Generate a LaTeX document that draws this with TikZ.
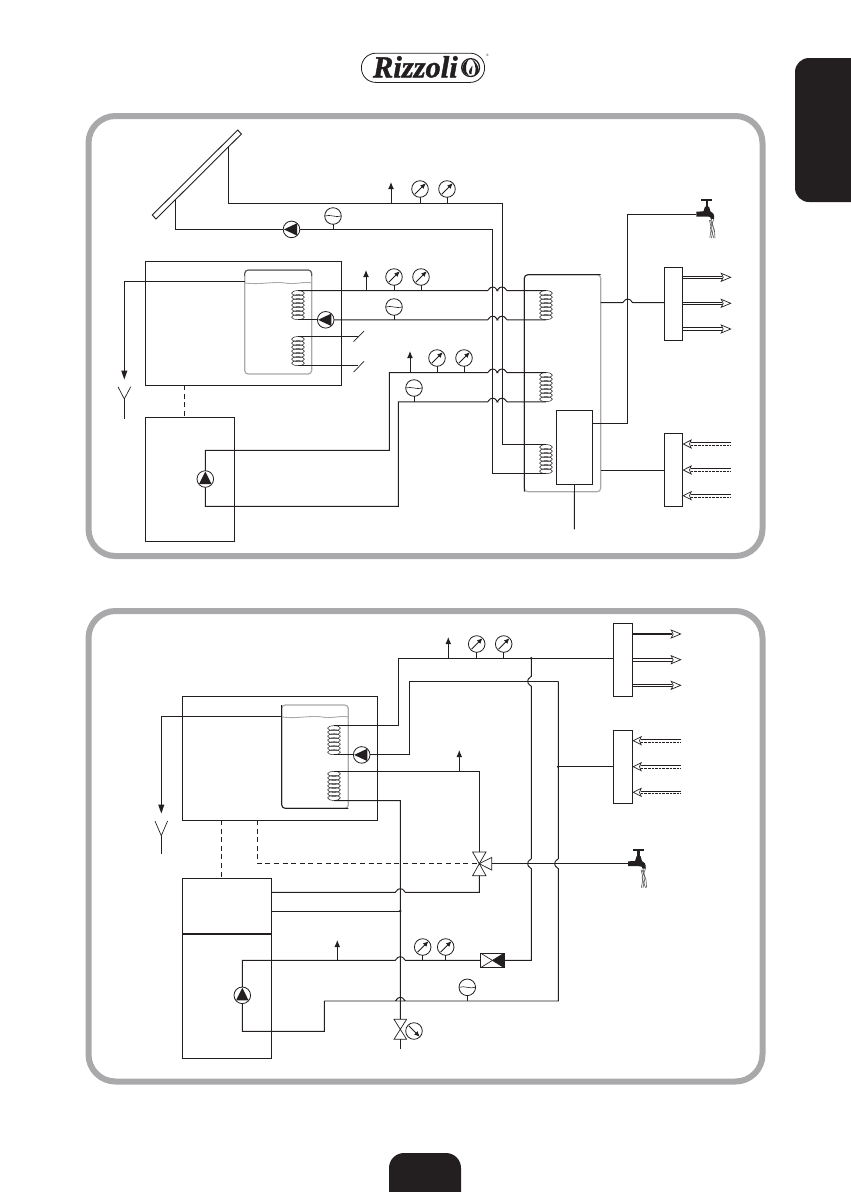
\documentclass[tikz,border=0pt]{standalone}
\usepackage{fontspec}
\setmainfont{Liberation Serif}
\newfontfamily\logofont[UprightFont={*/BI},RawFeature={embolden=1.3}]{Liberation Serif}
\usetikzlibrary{arrows.meta}
\definecolor{ink}{HTML}{231F20}
\definecolor{frame}{HTML}{A9A9AB}
\tikzset{
  pipe/.style={draw=ink,line width=0.95pt,line join=miter},
  box/.style={draw=ink,line width=0.95pt,rectangle,inner sep=0pt,outer sep=0pt,anchor=north west},
  panel/.style={draw=frame,line width=6pt,rounded corners=27pt},
  tank/.style={draw=frame,line width=1.2pt,rounded corners=3.5pt},
  dial/.style={draw=ink,line width=0.8pt,circle,minimum size=16.6pt,inner sep=0pt,outer sep=0pt,fill=white},
  needle/.style={ink,line width=0.9pt,-{Latex[length=5.5pt,width=5pt]}},
  vent/.style={ink,line width=0.95pt,-{Latex[length=7pt,width=5.8pt]}},
  dashpipe/.style={draw=ink,line width=0.9pt,dash pattern=on 5pt off 3.6pt},
  openhead/.style={draw=ink,line width=0.7pt,fill=white},
  coilring/.style={draw=ink,line width=0.5pt},
  drop/.style={draw=ink!75,line width=0.6pt},
  wave/.style={draw=frame,line width=0.9pt},
}
% bump of a horizontal pipe over a vertical one
\newcommand{\hb}[2]{-- (#1-5,#2) .. controls (#1-3.6,#2) and (#1-3.8,#2-3.6) .. (#1,#2-3.6) .. controls (#1+3.8,#2-3.6) and (#1+3.6,#2) .. (#1+5,#2)}
% bump of a vertical pipe to the left
\newcommand{\vb}[2]{-- (#1,#2-5) .. controls (#1,#2-3.6) and (#1-3.6,#2-3.8) .. (#1-3.6,#2) .. controls (#1-3.6,#2+3.8) and (#1,#2+3.6) .. (#1,#2+5)}
\newcommand{\gaugeup}[3]{\node[dial] (#1) at (#2,#3) {};\draw[needle] (#2-5.2,#3+5.2) -- (#2+5.8,#3-5.8);}
\newcommand{\gaugedown}[3]{\node[dial] (#1) at (#2,#3) {};\draw[needle] (#2-5.2,#3-5.2) -- (#2+5.8,#3+5.8);}
\newcommand{\flowdial}[3]{\node[dial] (#1) at (#2,#3) {};\draw[ink,line width=0.6pt] (#2-8,#3) .. controls (#2-3,#3-2) and (#2+3,#3+2) .. (#2+8,#3);}
\newcommand{\pumpleft}[3]{\node[dial] (#1) at (#2,#3) {};\fill[ink] (#2-7.6,#3) -- (#2+5.6,#3-6.2) -- (#2+5.6,#3+6.2) -- cycle;}
\newcommand{\pumpup}[3]{\node[dial] (#1) at (#2,#3) {};\fill[ink] (#2,#3-7.6) -- (#2-6.2,#3+5) -- (#2+6.2,#3+5) -- cycle;}
\newcommand{\coilfig}[3]{%
  \foreach \k in {0,...,6}{\draw[coilring] (#2,#3+2.5+4*\k) ellipse [x radius=6.4pt,y radius=2.5pt];}
  \coordinate (#1-t) at (#2,#3);
  \coordinate (#1-b) at (#2,#3+29.2);}
\newcommand{\tapfig}[3]{%
  \coordinate (#1) at (#2,#3);
  \fill[ink] (#2,#3-2.4) -- (#2+7,#3-2.6) -- (#2+8.6,#3-7.5) -- (#2+12.6,#3-7.5) -- (#2+14,#3-2.6) .. controls (#2+16.6,#3-2) and (#2+17.8,#3) .. (#2+17.8,#3+4.8) -- (#2+14.4,#3+4.8) .. controls (#2+14.4,#3+3) and (#2+13.6,#3+2.5) .. (#2+11,#3+2.5) -- (#2,#3+2.5) -- cycle;
  \fill[ink] (#2+9.3,#3-14) rectangle (#2+12,#3-6);
  \fill[ink] (#2+4.8,#3-14.6) rectangle (#2+16,#3-12.6);
  \draw[drop] (#2+13,#3+6) -- (#2+15,#3+14) -- (#2+13.4,#3+24);
  \draw[drop] (#2+15,#3+5) -- (#2+17,#3+14) -- (#2+15,#3+24);
  \draw[drop] (#2+17.5,#3+5) -- (#2+14,#3+14) -- (#2+17.5,#3+24);
  \draw[drop] (#2+14,#3+6) -- (#2+18,#3+16) -- (#2+18.6,#3+24);}
\newcommand{\outflow}[3]{% box edge x, tip x, y
  \draw[pipe,line width=0.8pt] (#1,#3-1.2) -- (#2-9,#3-1.2);
  \draw[pipe,line width=0.8pt] (#1,#3+1.2) -- (#2-9,#3+1.2);
  \draw[openhead] (#2-9.5,#3-4) -- (#2,#3) -- (#2-9.5,#3+4) -- (#2-7.5,#3) -- cycle;}
\newcommand{\inflow}[3]{% box edge x, tail x, y
  \draw[pipe,line width=0.8pt] (#1+8,#3-1.2) -- (#2,#3-1.2);
  \draw[pipe,line width=0.8pt,dash pattern=on 2.6pt off 1pt] (#1+8,#3+1.2) -- (#2,#3+1.2);
  \draw[openhead] (#1+8.5,#3-4) -- (#1+0.6,#3) -- (#1+8.5,#3+4) -- (#1+6.8,#3) -- cycle;}
\begin{document}
\begin{tikzpicture}[x=1pt,y=-1pt]
\useasboundingbox (0,0) rectangle (851,1192);
% page furniture
\fill[ink] (851,58) -- (809,58) arc[start angle=90,end angle=180,radius=14pt] -- (795,188) arc[start angle=180,end angle=270,radius=14pt] -- (851,202) -- cycle;
\fill[ink] (389,1192) -- (389,1168) arc[start angle=180,end angle=90,radius=15pt] -- (446,1153) arc[start angle=90,end angle=0,radius=15pt] -- (461,1192) -- cycle;
% logo
\draw[ink,line width=0.8pt,rounded corners=14.4pt] (361.4,53.2) rectangle (484.6,82.4);
\node[inner sep=0pt,anchor=base west,font=\logofont\fontsize{30.5}{30.5}\selectfont,text=ink] (logo) at (372.8,77.3) {Rizzoli};
\fill[ink] (470.6,67.6) circle[radius=9.6pt];
\fill[white] (470.6,67.6) circle[radius=8.2pt];
\fill[ink] (462.4,70) .. controls (461.4,64) and (466,61) .. (469,59) .. controls (466,63) and (465.6,67) .. (466.4,72) -- (469,75.6) .. controls (466,75) and (463.4,73) .. (462.4,70) -- cycle;
\fill[ink] (472,59.4) .. controls (475,61) and (479,66) .. (478.6,71) .. controls (477.6,73.6) and (476,75) .. (474,75.8) .. controls (476,72) and (477,66) .. (472,59.4) -- cycle;
\fill[ink] (469.6,74) .. controls (467.6,70.6) and (471,68.6) .. (472.4,65.6) .. controls (473,68) and (471.4,70) .. (471.6,74) -- cycle;
\node[inner sep=0pt,font=\fontsize{3.5}{3.5}\selectfont,text=ink] (regmark) at (487.5,55) {®};
% frames
\draw[panel] (88.5,116) rectangle (762.5,556);
\draw[panel] (88.5,611) rectangle (762.5,1081.5);

%% ------------ upper circuit
\draw[ink,line width=0.9pt] (152.3,215) -- (237.7,130) -- (241.4,134) -- (156,219) -- cycle;
\coordinate (solarA) at (228,147.4);
\coordinate (solarB) at (175.7,199.4);
\node[box,minimum width=195.3pt,minimum height=123.3pt] (boiler) at (145.7,261.7) {};
\node[box,minimum width=88.6pt,minimum height=123.7pt] (stove) at (145.7,417.3) {};
\draw[tank] (244.7,270) rectangle (311.7,374);
\draw[ink!75,line width=1pt,rounded corners=3.5pt] (244.7,276) -- (244.7,270) -- (311.7,270) -- (311.7,276);
\draw[wave] (244.7,283) .. controls (262,285) and (275,281) .. (285,283) .. controls (295,285) and (305,281) .. (311.7,283);
\coilfig{cA}{298}{290.6}
\coilfig{cB}{298}{336.6}
\draw[tank] (524.3,274.7) rectangle (600.7,491.7);
\draw[pipe,rounded corners=3.5pt] (524.3,491.7) -- (524.3,274.7) -- (600.7,274.7);
\coilfig{cC}{546}{290.6}
\coilfig{cD}{546}{372.6}
\coilfig{cE}{546}{444.6}
\node[box,minimum width=36.4pt,minimum height=74.4pt,fill=white] (exch) at (556.3,410.3) {};
\node[box,minimum width=18.4pt,minimum height=73.4pt] (hot) at (664.3,267.3) {};
\node[box,minimum width=18.4pt,minimum height=73pt] (cold) at (664.3,433.3) {};

% solar loop
\pumpleft{pS}{291.5}{229.4}
\flowdial{fS}{333}{216}
\gaugeup{gS1}{420}{189}
\gaugeup{gS2}{447}{189}
\draw[pipe] (solarA) -- (228,203) -- (502,203) -- (502,444.6) -- (cE-t);
\draw[pipe] (solarB) -- (175.7,229.4) -- (pS.west);
\draw[pipe] (pS.east) -- (492.7,229.4) -- (492.7,473.8) -- (cE-b);
\coordinate (vS) at (391,182);
\draw[vent] (391,203) -- (vS);
\draw[pipe] (gS1.south) -- (420,203);
\draw[pipe] (gS2.south) -- (447,203);
\draw[pipe] (fS.south) -- (333,229.4);

% first loop
\pumpleft{pA}{325.7}{319.8}
\flowdial{fA}{394}{307}
\gaugeup{gA1}{394}{277}
\gaugeup{gA2}{421}{277}
\draw[pipe] (cA-t) \hb{492.7}{290.6} \hb{502}{290.6} -- (cC-t);
\draw[pipe] (cA-b) -- (pA.west);
\draw[pipe] (pA.east) \hb{492.7}{319.8} \hb{502}{319.8} -- (cC-b);
\coordinate (vA) at (366,270);
\draw[vent] (366,290.6) -- (vA);
\draw[pipe] (gA1.south) -- (394,290.6);
\draw[pipe] (gA2.south) -- (421,290.6);
\draw[pipe] (fA.south) -- (394,319.8);
% cut ends
\coordinate (cutA) at (358,336.6);
\coordinate (cutB) at (358,365.8);
\draw[pipe] (cB-t) -- (cutA);
\draw[pipe] (cB-b) -- (cutB);
\draw[ink,line width=0.7pt] (353.6,341.6) -- (364,331);
\draw[ink,line width=0.7pt] (353.6,372) -- (364,361.4);

% stove loop
\pumpup{pB}{205.3}{479}
\flowdial{fB}{414}{388}
\gaugeup{gB1}{437}{358}
\gaugeup{gB2}{464}{358}
\draw[pipe] (pB.north) -- (205.3,450.3) -- (389.3,450.3) -- (389.3,372.6) \hb{492.7}{372.6} \hb{502}{372.6} -- (cD-t);
\draw[pipe] (pB.south) -- (205.3,506.3) -- (398.3,506.3) -- (398.3,401.8) \hb{492.7}{401.8} \hb{502}{401.8} -- (cD-b);
\coordinate (vB) at (410,351);
\draw[vent] (410,372.6) -- (vB);
\draw[pipe] (gB1.south) -- (437,372.6);
\draw[pipe] (gB2.south) -- (464,372.6);
\draw[pipe] (fB.south) -- (414,401.8);

% flue
\coordinate (fnA) at (124.3,399);
\coordinate (drainA) at (124.3,419);
\draw[pipe] (244.7,281.7) -- (124.3,281.7) -- (124.3,374);
\fill[ink] (121.2,370.6) -- (127.4,370.6) -- (124.3,379.5) -- cycle;
\draw[ink,line width=0.7pt] (118,386.8) -- (fnA) -- (130.7,386.8);
\draw[pipe] (fnA) -- (drainA);
\draw[dashpipe] (184.3,385) -- (184.3,417.3);

% tank 2 connections
\tapfig{tapA}{696.4}{214}
\draw[pipe] (exch.south) -- (574.3,529.3);
\draw[pipe] (592.7,423.3) -- (627.7,423.3) -- (627.7,214) -- (tapA);
\draw[pipe] (600.7,302.7) \hb{627.7}{302.7} -- (664.3,302.7);
\draw[pipe] (600.7,470.3) -- (664.3,470.3);
\outflow{682.7}{730.7}{277.3}
\outflow{682.7}{730.7}{303.3}
\outflow{682.7}{730.7}{329}
\inflow{682.7}{731}{444}
\inflow{682.7}{731}{470}
\inflow{682.7}{731}{495.7}

%% ------------ lower circuit
\node[box,minimum width=195.4pt,minimum height=123.7pt] (boilerL) at (182.3,696.3) {};
\node[box,minimum width=89.4pt,minimum height=180pt] (stoveL) at (182.3,878.3) {};
\draw[ink,line width=2pt] (182.3,933.7) -- (271.7,933.7);
\draw[tank] (281.7,705) rectangle (348.3,808.3);
\draw[pipe,rounded corners=3.5pt] (348.3,808.3) -- (281.7,808.3) -- (281.7,705);
\draw[wave] (281.7,717) .. controls (298,719) and (312,715) .. (322,717) .. controls (332,719) and (342,715) .. (348.3,717);
\coilfig{cF}{334}{725.7}
\coilfig{cG}{334}{771.4}
\node[box,minimum width=19.4pt,minimum height=73pt] (hotL) at (613.3,623.3) {};
\node[box,minimum width=19.4pt,minimum height=73pt] (coldL) at (613.3,730.3) {};

\pumpleft{pC}{361.7}{754.9}
\gaugeup{gC1}{476.7}{644}
\gaugeup{gC2}{503.7}{644}
\coordinate (vC) at (448.3,637);
\draw[pipe] (cF-t) -- (398.3,725.7) -- (398.3,658.3) -- (613.3,658.3);
\draw[vent] (448.3,658.3) -- (vC);
\draw[pipe] (gC1.south) -- (476.7,658.3);
\draw[pipe] (gC2.south) -- (503.7,658.3);
\draw[pipe] (cF-b) -- (pC.west);
\draw[pipe] (pC.east) -- (409.3,754.9) -- (409.3,681.3) -- (558.3,681.3);
\fill[ink] (531.3,658.3) circle[radius=1.4pt];

% three way valve
\coordinate (v3) at (479.3,863.7);
\draw[ink,line width=0.7pt] (v3) -- (472.6,852) -- (486,852) -- cycle;
\draw[ink,line width=0.7pt] (v3) -- (472.6,875.7) -- (486,875.7) -- cycle;
\draw[ink,line width=0.7pt] (v3) -- (491.7,857.4) -- (491.7,870) -- cycle;
\coordinate (vD) at (459.3,750);
\draw[pipe] (cG-t) -- (479.3,771.4) -- (479.3,852);
\draw[vent] (459.3,771.4) -- (vD);
\tapfig{tapB}{628}{863.7}
\draw[pipe] (491.7,863.7) -- (tapB);
% check valve
\node[box,minimum width=23.4pt,minimum height=14.4pt,line width=0.9pt] (chk) at (480.7,953.2) {};
\draw[ink,line width=0.7pt] (chk.north west) -- (chk.south east);
\draw[ink,line width=0.7pt] (chk.south west) -- (chk.north east);
\fill[ink] (chk.center) -- (chk.north east) -- (chk.south east) -- cycle;
% second pump, gauges
\pumpup{pD}{242.3}{995.3}
\gaugeup{gD1}{422.7}{947}
\gaugeup{gD2}{445.7}{947}
\flowdial{fD}{467.3}{987.3}
\coordinate (vE) at (337.3,940);
% two vertical mains
\draw[pipe] (531.3,658.3) \vb{531.3}{681.3} \vb{531.3}{863.7} -- (531.3,960.3) -- (chk.east);
\draw[pipe] (558.3,681.3) \vb{558.3}{863.7} -- (558.3,1001) \hb{400.3}{1001} -- (324.3,1001) -- (324.3,1031.3) -- (242.3,1031.3) -- (pD.south);
\draw[pipe] (pD.north) -- (242.3,960.3) \hb{400.3}{960.3} -- (chk.west);
\draw[vent] (337.3,960.3) -- (vE);
\draw[pipe] (gD1.south) -- (422.7,960.3);
\draw[pipe] (gD2.south) -- (445.7,960.3);
\draw[pipe] (fD.south) -- (467.3,1001);
\draw[pipe] (558.3,766.7) -- (613.3,766.7);
\fill[ink] (558.3,766.7) circle[radius=1.4pt];
% stove to valve links
\draw[pipe] (271.7,892.3) \hb{400.3}{892.3} -- (479.3,892.3) -- (479.3,875.7);
\draw[pipe] (271.7,911) -- (400.3,911);
\fill[ink] (400.3,911) circle[radius=1.4pt];
% lower coil feed and gas valve
\coordinate (v2) at (400.3,1029.3);
\draw[ink,line width=0.7pt] (v2) -- (394,1019.3) -- (406.6,1019.3) -- cycle;
\draw[ink,line width=0.7pt] (v2) -- (394,1039.3) -- (406.6,1039.3) -- cycle;
\draw[pipe] (cG-b) -- (400.3,800.6) -- (400.3,1019.3);
\draw[pipe] (400.3,1039.3) -- (400.3,1049.3);
\gaugedown{gV}{414}{1031}
% dashed signals
\draw[dashpipe] (221.3,820) -- (221.3,878.3);
\draw[dashpipe] (257.3,820) -- (257.3,863.5) -- (479.3,863.5);
% flue
\coordinate (fnB) at (161.3,835.7);
\draw[pipe] (281.7,716.7) -- (161.3,716.7) -- (161.3,808);
\fill[ink] (158.2,804.6) -- (164.4,804.6) -- (161.3,813.5) -- cycle;
\draw[ink,line width=0.7pt] (155,821) -- (fnB) -- (167.6,821);
\draw[pipe] (fnB) -- (161.3,853.7);
% outlets and inlets
\draw[ink,line width=2.2pt] (632.7,634) -- (671.7,634);
\draw[openhead] (671.2,630) -- (680.7,634) -- (671.2,638) -- (673.2,634) -- cycle;
\outflow{632.7}{680.7}{659.7}
\outflow{632.7}{680.7}{685.3}
\inflow{632.7}{680.7}{740.7}
\inflow{632.7}{680.7}{766.7}
\inflow{632.7}{680.7}{792.3}
\end{tikzpicture}
\end{document}
